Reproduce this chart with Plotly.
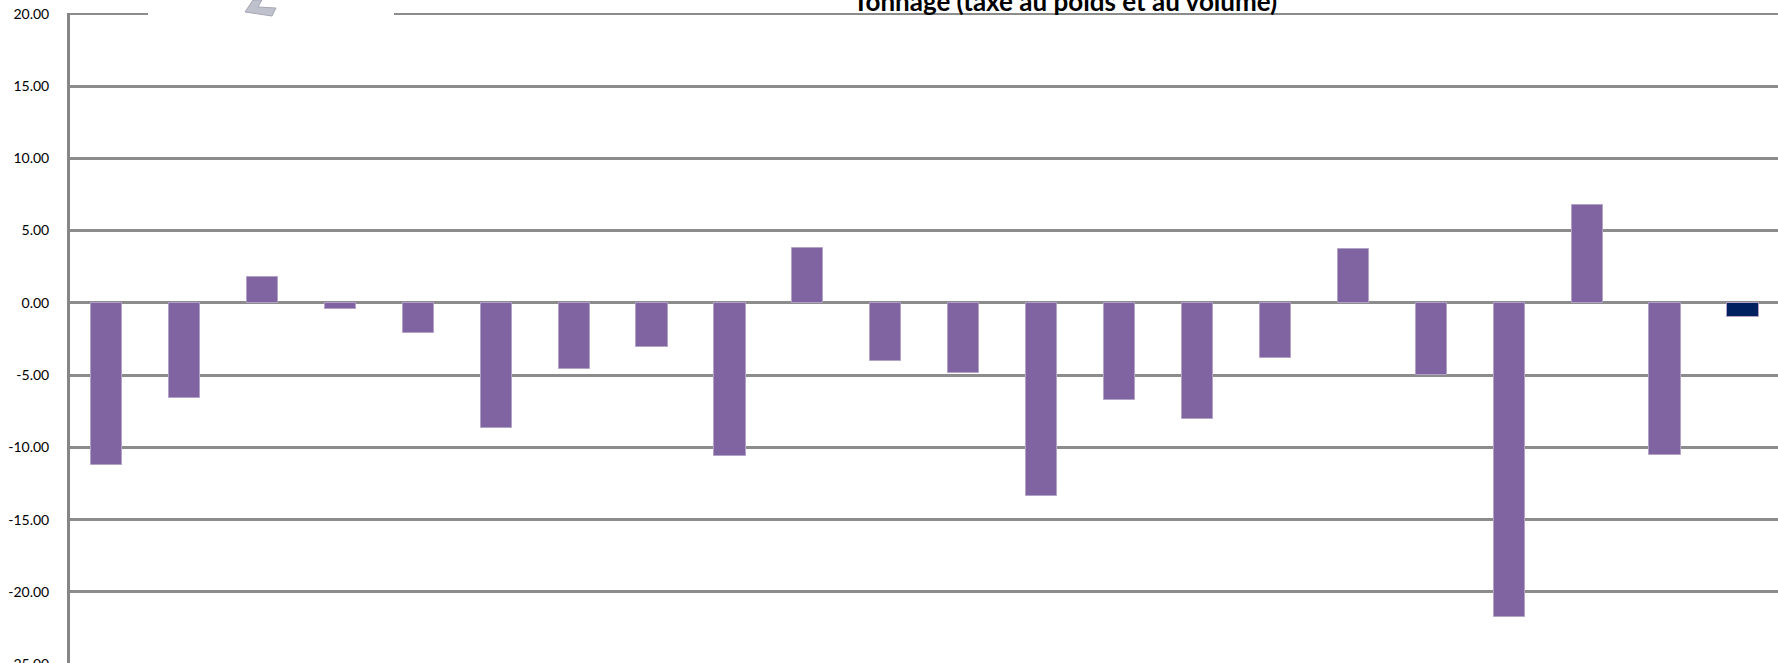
import plotly.graph_objects as go

W, H = 1778, 680
categories = list(range(1, 23))
values = [-11.2, -6.6, 1.8, -0.4, -2.1, -8.65, -4.55, -3.05, -10.6, 3.8, -4.05,
          -4.85, -13.35, -6.75, -8.0, -3.8, 3.75, -5.0, -21.75, 6.8, -10.5, -1.0]
colors = ["#8064A2"] * 21 + ["#002060"]
tick_values = [20, 15, 10, 5, 0, -5, -10, -15, -20, -25]
tick_labels = ["20.00", "15.00", "10.00", "5.00", "0.00", "-5.00", "-10.00", "-15.00", "-20.00", "-25.00"]
title_text = "Tonnage (taxe au poids et au volume)"

L, T, B = 70, 13, 15


def px(x):
    return (x - L) / (W - L)


def py(y):
    return 1 - (y - T) / (H - B - T)


fig = go.Figure(go.Bar(
    x=categories, y=values, width=0.4,
    marker=dict(color=colors, line=dict(color="#B3A2C7", width=1)),
    showlegend=False, hoverinfo="skip",
))

icon = "M {} {} L {} {} L {} {} L {} {} L {} {} L {} {} Z".format(
    px(245), py(12), px(253), py(0), px(262), py(0), px(258), py(7),
    px(276), py(8), px(272), py(16))

fig.update_layout(
    width=W, height=H,
    margin=dict(l=L, r=0, t=T, b=B, pad=0),
    paper_bgcolor="white", plot_bgcolor="white",
    bargap=0,
    xaxis=dict(range=[0.53, 22.45], showticklabels=False, showgrid=False,
               zeroline=False, ticks="", showline=False, fixedrange=True),
    yaxis=dict(range=[-25.05, 20.05], tickvals=tick_values, ticktext=tick_labels,
               showgrid=True, gridcolor="#8C8C8C", gridwidth=2.5,
               zeroline=True, zerolinecolor="#8C8C8C", zerolinewidth=2.5,
               showline=True, linecolor="#868686", linewidth=3,
               ticks="", ticklabelstandoff=15, fixedrange=True,
               tickfont=dict(family="Lato, Carlito, sans-serif", size=14, color="#000000")),
    shapes=[
        dict(type="line", xref="paper", yref="y", x0=0, x1=1, y0=20, y1=20,
             line=dict(color="#8C8C8C", width=2.5), layer="below"),
        dict(type="rect", xref="paper", yref="paper", x0=px(148), x1=px(394),
             y0=py(20), y1=py(6), fillcolor="white", line_width=0, layer="above"),
        dict(type="path", xref="paper", yref="paper", path=icon,
             fillcolor="#BFC1CC", line=dict(color="#A5A7B5", width=1), layer="above"),
    ],
    annotations=[dict(text=f"<b>{title_text}</b>", xref="paper", yref="paper",
                      x=px(1065), y=py(19), xanchor="center", yanchor="bottom",
                      showarrow=False,
                      font=dict(family="Lato, Carlito, sans-serif", size=26, color="#000000"))],
)

fig.write_html("out.html", config={"displayModeBar": False},
               post_script="document.body.style.margin='0';document.documentElement.style.overflow='hidden';document.body.style.overflow='hidden';")
